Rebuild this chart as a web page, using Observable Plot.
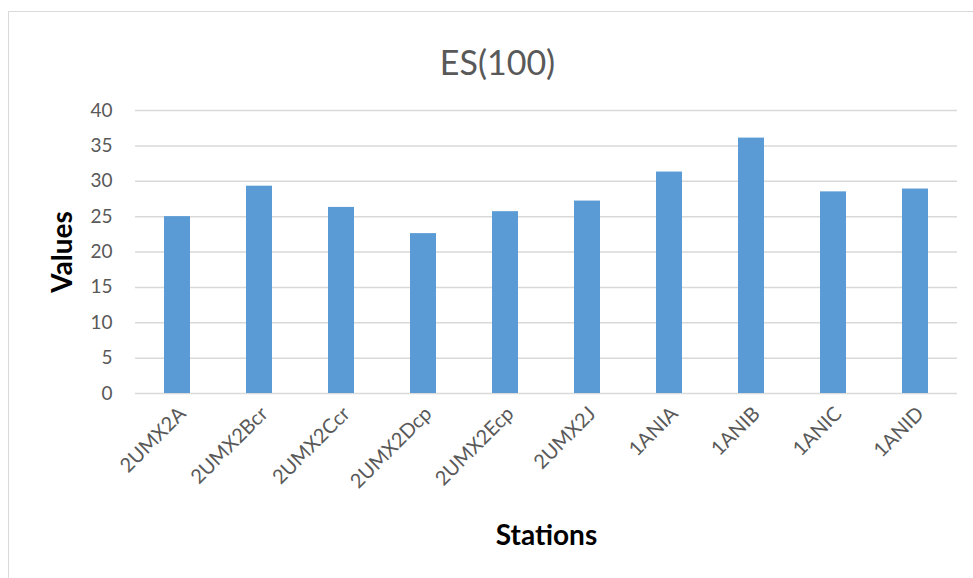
<!DOCTYPE html>
<html>
<head>
<meta charset="utf-8">
<script src="https://cdn.jsdelivr.net/npm/d3@7"></script>
<script src="https://cdn.jsdelivr.net/npm/@observablehq/plot@0.6"></script>
<style>
  html, body { margin: 0; padding: 0; background: #fff; overflow: hidden; }
  #wrap { position: relative; width: 973px; height: 578px; }
  #frame { position: absolute; left: 8px; top: 11px; width: 1000px; height: 600px;
           border-left: 1.5px solid #d9d9d9; border-top: 1.5px solid #d9d9d9; }
  #chart { position: absolute; left: 0; top: 0; }
</style>
</head>
<body>
<div id="wrap"><div id="frame"></div><div id="chart"></div></div>
<script>
// ES(100) per sampling station
const stations = ["2UMX2A", "2UMX2Bcr", "2UMX2Ccr", "2UMX2Dcp", "2UMX2Ecp", "2UMX2J", "1ANIA", "1ANIB", "1ANIC", "1ANID"];
const values = [25.0, 29.3, 26.3, 22.6, 25.7, 27.2, 31.3, 36.1, 28.5, 28.9];
const yTicks = [0, 5, 10, 15, 20, 25, 30, 35, 40];
const chartTitle = "ES(100)";
const xTitle = "Stations";
const yTitle = "Values";

const data = stations.map((s, i) => ({station: s, value: values[i]}));
const font = "Lato, 'Open Sans', sans-serif";

const chart = Plot.plot({
  width: 973,
  height: 578,
  marginTop: 110,
  marginBottom: 185,
  marginLeft: 135,
  marginRight: 16,
  style: {fontFamily: font, background: "transparent", overflow: "visible"},
  x: {domain: stations, paddingInner: 0.68, paddingOuter: 0.34, label: null},
  y: {domain: [0, 40], ticks: yTicks, label: null},
  marks: [
    Plot.gridY(yTicks, {stroke: "#d9d9d9", strokeOpacity: 1, strokeWidth: 1.5}),
    Plot.barY(data, {x: "station", y: "value", fill: "#5b9bd5"}),
    Plot.axisY(yTicks, {tickSize: 0, tickPadding: 23, fontSize: 19, fill: "#595959", label: null}),
    Plot.axisX({tickSize: 0, tickRotate: -45, tickPadding: 17, fontSize: 20, fill: "#595959", label: null, dx: 5}),
    Plot.text([chartTitle], {frameAnchor: "top", dy: -60, dx: -49, fontSize: 34, fill: "#595959"}),
    Plot.text([xTitle], {frameAnchor: "bottom", dy: 151, fontSize: 28, fontWeight: "bold", fill: "#000"}),
    Plot.text([yTitle], {frameAnchor: "left", textAnchor: "middle", rotate: -90, dx: -72, fontSize: 28, fontWeight: "bold", fill: "#000"})
  ]
});
document.getElementById("chart").appendChild(chart);
</script>
</body>
</html>
